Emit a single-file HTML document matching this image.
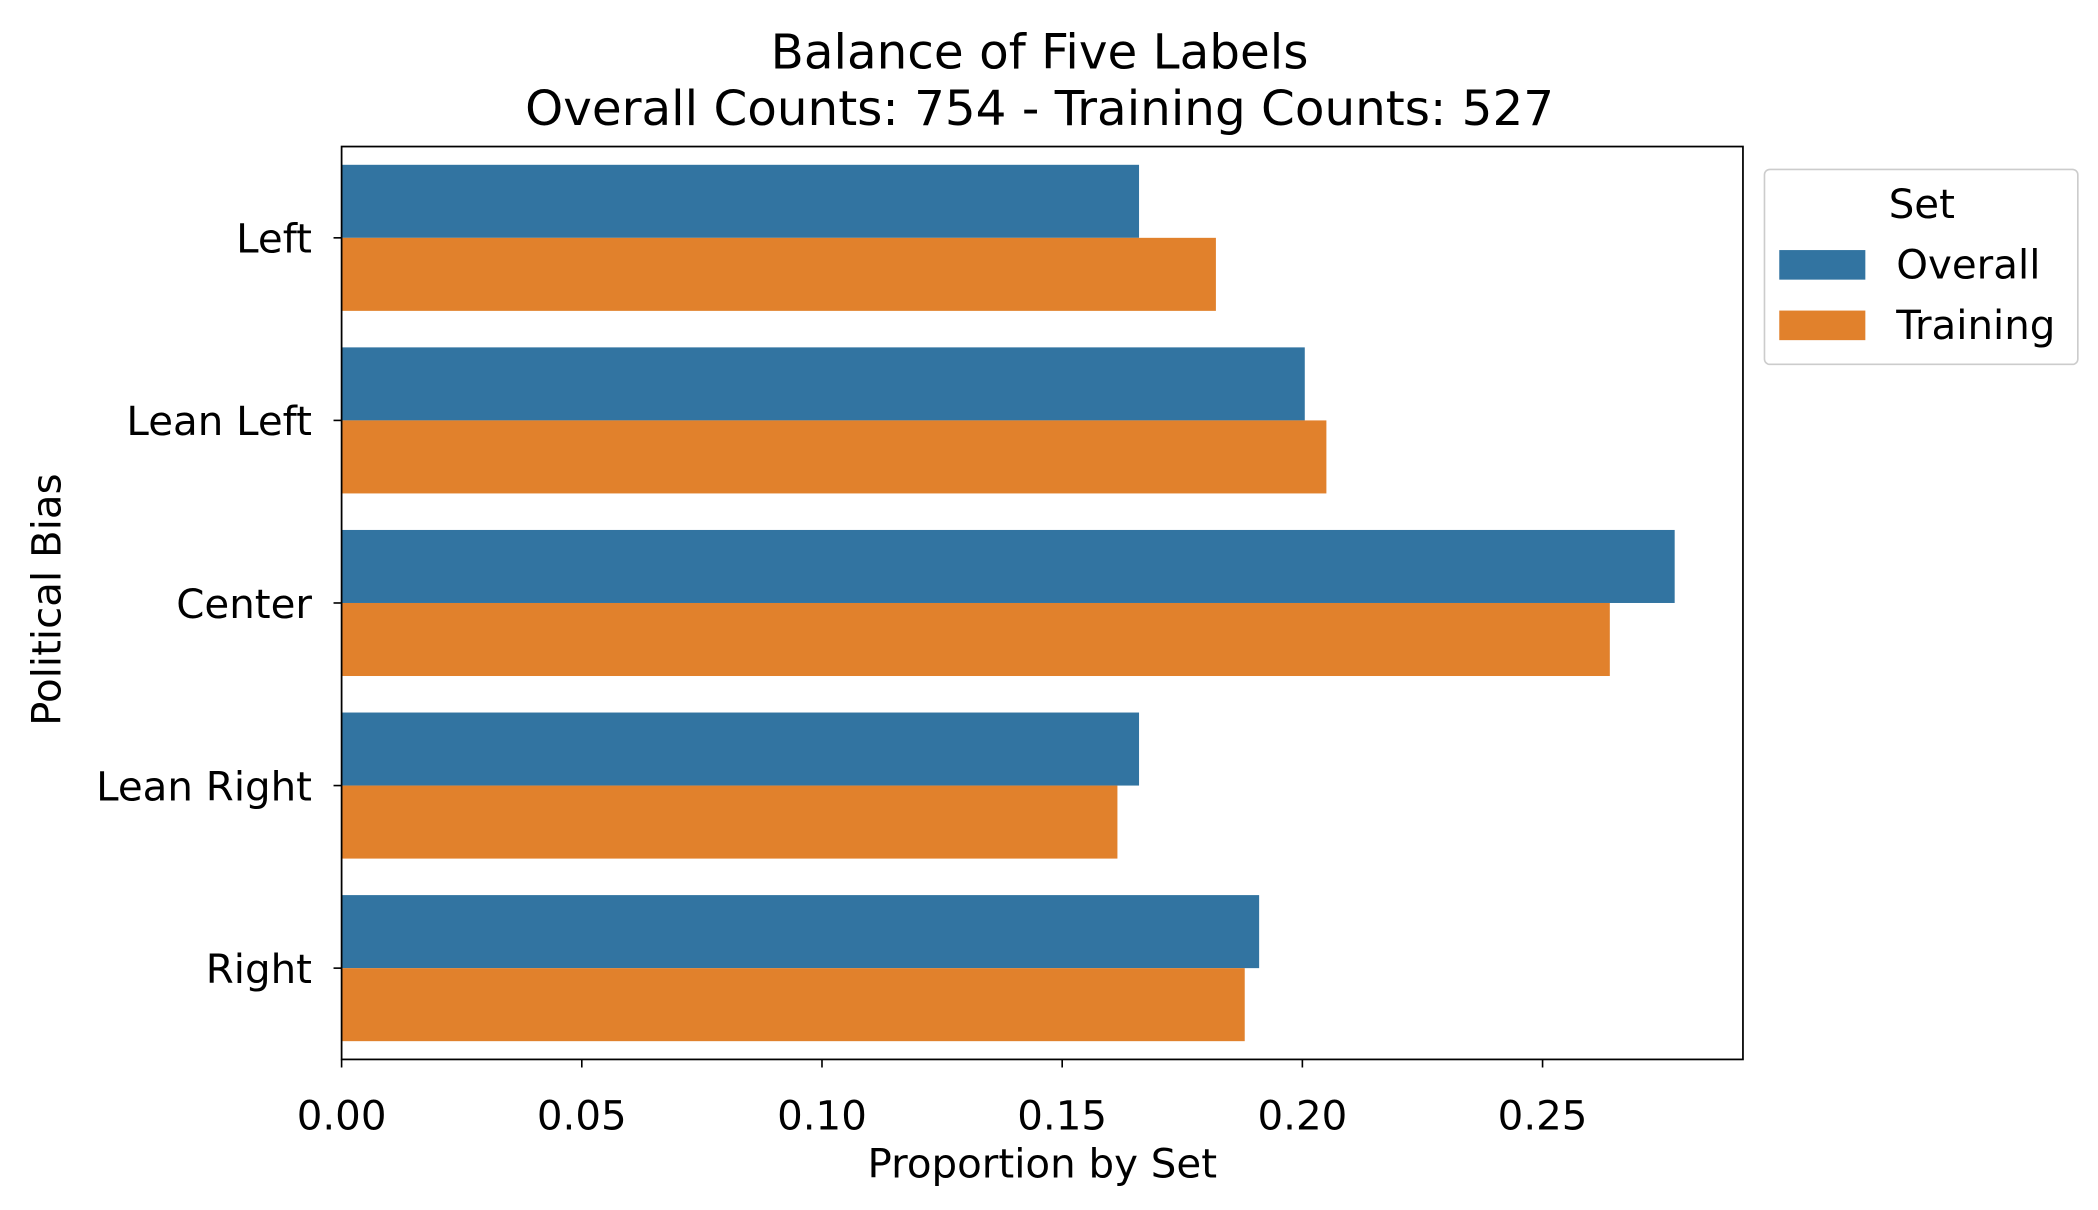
<!DOCTYPE html>
<html><head><meta charset="utf-8"><style>
html,body{margin:0;padding:0;background:#fff;}
svg{display:block;font-family:"DejaVu Sans","Liberation Sans",sans-serif;}
</style></head><body>
<svg id="chart" width="2098" height="1210" viewBox="0 0 1560 900" preserveAspectRatio="none">
<rect x="0" y="0" width="1560" height="900" fill="#fff"/>
<text x="773" y="51" font-size="36" text-anchor="middle">Balance of Five Labels</text>
<text x="773" y="93" font-size="36" text-anchor="middle">Overall Counts: 754 - Training Counts: 527</text>
<g id="bars"></g>
<rect x="254" y="109" width="1042" height="679" fill="none" stroke="#000" stroke-width="1.3"/>
<g id="xticks"></g>
<g id="yticks"></g>
<text x="775" y="876" font-size="30" text-anchor="middle">Proportion by Set</text>
<text x="0" y="0" font-size="30" text-anchor="middle" transform="translate(45,446) rotate(-90)">Political Bias</text>
<g>
<rect x="1312" y="126" width="233" height="145" rx="4" fill="#fff" stroke="#ccc" stroke-width="1.2"/>
<text x="1429" y="162" font-size="30" text-anchor="middle">Set</text>
<rect x="1323" y="186" width="64" height="22" fill="#3274a1"/>
<text x="1410" y="207" font-size="30">Overall</text>
<rect x="1323" y="231" width="64" height="22" fill="#e1812c"/>
<text x="1410" y="252" font-size="30">Training</text>
</g>
</svg>
<script>
const categories = ["Left","Lean Left","Center","Lean Right","Right"];
const overallValues = [0.166, 0.2005, 0.2775, 0.166, 0.191];
const trainingValues = [0.182, 0.205, 0.264, 0.1615, 0.188];
const xTickValues = [0, 0.05, 0.10, 0.15, 0.20, 0.25];
const xTickLabels = ["0.00","0.05","0.10","0.15","0.20","0.25"];

const NS = "http://www.w3.org/2000/svg";
const L = 254, R = 1296, T = 109, B = 788;
const xMax = (R - L) / ((1147 - 254) / 0.25);
function xs(v){ return L + v / xMax * (R - L); }
const band = (B - T) / categories.length;
function yc(i){ return T + band * (i + 0.5); }
function mk(tag, attrs, parent){ const e = document.createElementNS(NS, tag); for (const k in attrs) e.setAttribute(k, attrs[k]); parent.appendChild(e); return e; }
const barsG = document.getElementById('bars');
const xg = document.getElementById('xticks');
const yg = document.getElementById('yticks');
const bh = band * 0.4;
categories.forEach((c, i) => {
  const b1 = mk('rect', {x: xs(0), y: yc(i) - bh, width: xs(overallValues[i]) - xs(0), height: bh, fill: '#3274a1'}, barsG);
  
  
  const b2 = mk('rect', {x: xs(0), y: yc(i), width: xs(trainingValues[i]) - xs(0), height: bh, fill: '#e1812c'}, barsG);
  
  
  const tk = mk('line', {x1: L - 6, x2: L, y1: yc(i), y2: yc(i), stroke: '#000', 'stroke-width': 1.2}, yg);
  
  
  const t = mk('text', {x: L - 22, y: yc(i) + 11, 'font-size': 30, 'text-anchor': 'end'}, yg);
  t.textContent = c;
  
  
});
xTickValues.forEach((v, i) => {
  const tk = mk('line', {x1: xs(v), x2: xs(v), y1: B, y2: B + 6, stroke: '#000', 'stroke-width': 1.2}, xg);
  
  
  const t = mk('text', {x: xs(v), y: B + 52, 'font-size': 30, 'text-anchor': 'middle'}, xg);
  t.textContent = xTickLabels[i];
  
  
});
</script>
</body></html>
